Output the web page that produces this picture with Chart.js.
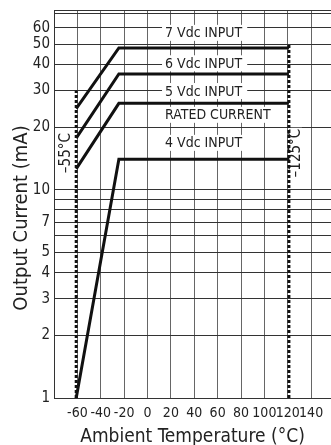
<!DOCTYPE html>
<html>
<head>
<meta charset="utf-8">
<script src="https://cdn.jsdelivr.net/npm/chart.js@4/dist/chart.umd.min.js"></script>
<style>
  html, body { margin: 0; padding: 0; background: #fff; }
  #wrap { width: 331px; height: 445px; }
</style>
</head>
<body>
<div id="wrap"><canvas id="chart-derating" width="331" height="445"></canvas></div>
<script>
// data
var tempBreaks = [-61, -24.5, 121];      // start, knee, end (°C)
var current7V = [24.5, 48, 48];
var current6V = [17.7, 36, 36];
var current5V = [12.6, 26, 26];
var current4V = [1, 14, 14];

var limitTemps = [-61, 121];             // dotted limit lines
var limitTops = [30, 50];
var limitTexts = ['\u201355\u00b0C', '\u2013125\u00b0C'];

var xTicks = [-80, -60, -40, -20, 0, 20, 40, 60, 80, 100, 120, 140];
var xLabels = [-60, -40, -20, 0, 20, 40, 60, 80, 100, 120, 140];
var yTicks = [1, 2, 3, 4, 5, 6, 7, 8, 9, 10, 20, 30, 40, 50, 60, 70];
var yLabels = [1, 2, 3, 4, 5, 7, 10, 20, 30, 40, 50, 60];

var curveNames = ['7 Vdc INPUT', '6 Vdc INPUT', '5 Vdc INPUT', 'RATED CURRENT', '4 Vdc INPUT'];
var curveNameLevels = [56.7, 40.5, 29.8, 22.9, 16.8];

var COND = "'DejaVu Sans Condensed', 'Liberation Sans Narrow', sans-serif";

function pts(ys) {
  return tempBreaks.map(function(t, i) { return { x: t, y: ys[i] }; });
}

function limitLine(i) {
  return {
    data: [{ x: limitTemps[i], y: 1 }, { x: limitTemps[i], y: limitTops[i] }],
    borderColor: '#111', borderWidth: 3, borderDash: [3, 2],
    pointRadius: 0, fill: false
  };
}

function curve(ys) {
  return { data: pts(ys), borderColor: '#111', borderWidth: 3, pointRadius: 0, fill: false, tension: 0 };
}

// texts on the plot: curve names, limit temperatures, y title
var textPlugin = {
  id: 'graphTexts',
  beforeDatasetsDraw: function(chart) {
    var ctx = chart.ctx;
    var xs = chart.scales.x, ys = chart.scales.y;
    ctx.save();
    ctx.font = '14px ' + COND;
    ctx.textBaseline = 'middle';
    ctx.textAlign = 'left';
    var x0 = xs.getPixelForValue(15);
    curveNames.forEach(function(name, i) {
      var y = ys.getPixelForValue(curveNameLevels[i]);
      var w = ctx.measureText(name).width;
      ctx.fillStyle = '#fff';
      ctx.fillRect(x0 - 3, y - 8, w + 8, 16);
      ctx.fillStyle = '#222';
      ctx.fillText(name, x0, y + 1);
    });

    ctx.font = '15px ' + COND;
    ctx.textAlign = 'center';
    var offs = [-10, 7];
    limitTexts.forEach(function(t, i) {
      var px = xs.getPixelForValue(limitTemps[i]) + offs[i];
      var py = ys.getPixelForValue(15);
      ctx.save();
      ctx.translate(px, py);
      ctx.rotate(-Math.PI / 2);
      var w = ctx.measureText(t).width;
      ctx.fillStyle = '#fff';
      ctx.fillRect(-w / 2 - 1, -6, w + 2, 12);
      ctx.fillStyle = '#222';
      ctx.fillText(t, 0, 0);
      ctx.restore();
    });

    ctx.font = '20px ' + COND;
    ctx.translate(22, 218);
    ctx.rotate(-Math.PI / 2);
    ctx.fillStyle = '#222';
    ctx.fillText('Output Current (mA)', 0, 0);
    ctx.restore();
  }
};

new Chart(document.getElementById('chart-derating'), {
  type: 'line',
  data: {
    datasets: [
      curve(current7V),
      curve(current6V),
      curve(current5V),
      curve(current4V),
      limitLine(0),
      limitLine(1)
    ]
  },
  options: {
    responsive: false,
    animation: false,
    devicePixelRatio: 1,
    layout: { padding: { top: 10, left: 0, right: 0, bottom: 0 } },
    plugins: { legend: { display: false }, tooltip: { enabled: false } },
    scales: {
      x: {
        type: 'linear',
        min: -80, max: 157,
        afterBuildTicks: function(s) { s.ticks = xTicks.map(function(v) { return { value: v }; }); },
        afterFit: function(s) { s.height = 47; s.paddingLeft = 0; s.paddingRight = 0; },
        grid: { color: '#666', lineWidth: 1, drawTicks: false },
        border: { color: '#333', width: 1 },
        ticks: {
          autoSkip: false, maxRotation: 0, padding: 7, color: '#222',
          font: { family: COND, size: 14 },
          callback: function(v) { return xLabels.indexOf(v) >= 0 ? String(v) : ''; }
        },
        title: {
          display: true, text: 'Ambient Temperature (\u00b0C)', color: '#222',
          font: { family: COND, size: 19, lineHeight: 1 }, padding: { top: 0, bottom: -2 }
        }
      },
      y: {
        type: 'logarithmic',
        min: 1, max: 73,
        afterBuildTicks: function(s) {
          s.ticks = yTicks.map(function(v) { return { value: v }; });
          s.ticks.push({ value: s.max });
        },
        afterFit: function(s) { s.width = 54; s.paddingTop = 0; s.paddingBottom = 0; },
        grid: { color: '#333', lineWidth: 1, drawTicks: false },
        border: { color: '#333', width: 1 },
        ticks: {
          autoSkip: false, padding: 4, color: '#222',
          font: { family: COND, size: 15 },
          callback: function(v) { return yLabels.indexOf(v) >= 0 ? String(v) : ''; }
        }
      }
    }
  },
  plugins: [textPlugin]
});
</script>
</body>
</html>
